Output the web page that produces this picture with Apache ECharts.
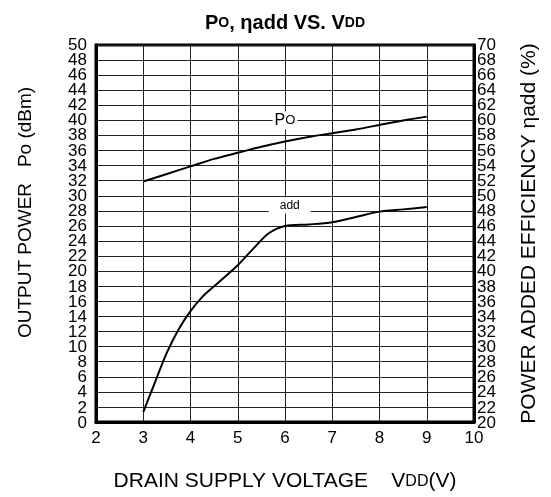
<!DOCTYPE html>
<html>
<head>
<meta charset="utf-8">
<script src="https://cdn.jsdelivr.net/npm/echarts@6/dist/echarts.min.js"></script>
<style>
  html, body { margin: 0; padding: 0; background: #fff; }
  #chart { width: 551px; height: 497px; }
</style>
</head>
<body>
<div id="chart"></div>
<script>
// drain supply voltage (V) and output power (dBm)
const vddPo = [3, 3.5, 4, 4.5, 5, 5.5, 6, 6.5, 7, 7.5, 8, 8.5, 9];
const po = [31.9, 32.9, 33.9, 34.9, 35.7, 36.5, 37.2, 37.8, 38.3, 38.8, 39.4, 40.0, 40.5];

// power added efficiency (%)
const vddEff = [3, 3.25, 3.5, 3.75, 4, 4.25, 4.5, 5, 5.3, 5.65, 6, 6.5, 7, 7.5, 8, 8.5, 9];
const eff = [21.3, 25.3, 29.2, 32.3, 34.7, 36.6, 38.0, 40.8, 42.8, 45.0, 46.0, 46.2, 46.5, 47.2, 47.9, 48.2, 48.5];

// axis ranges
const poRange = [0, 50];
const effRange = [20, 70];
const vddRange = [2, 10];

const labelFont = "Liberation Sans, Arial, sans-serif";
const plot = { left: 96, right: 77, top: 45, bottom: 74 };
const step = 2;
// pixels per label step (labels are closer than their font height)
const stepPx = (497 - plot.top - plot.bottom) / ((poRange[1] - poRange[0]) / step);

const chart = echarts.init(document.getElementById("chart"));

const tickLabel = { fontFamily: labelFont, fontSize: 17, color: "#000", showMinLabel: true, showMaxLabel: true };

// every other tick label lives on a helper axis, so echarts never hides neighbours of min/max
function labelAxis(gridIndex, min, max, position, margin, hideVal) {
  return {
    type: "value",
    gridIndex: gridIndex,
    min: min,
    max: max,
    interval: step * 2,
    position: position,
    axisLine: { show: false },
    axisTick: { show: false },
    splitLine: { show: false },
    axisLabel: Object.assign({}, tickLabel, {
      margin: margin,
      formatter: (v) => (v === hideVal ? "" : String(v)),
    }),
  };
}

chart.setOption({
  animation: false,
  title: {
    text: "{a|P}{b|O}{a|, ηadd VS. V}{b|DD}",
    left: 200,
    top: 8,
    textStyle: {
      rich: {
        a: { fontFamily: labelFont, fontSize: 20, fontWeight: "bold", color: "#000" },
        b: { fontFamily: labelFont, fontSize: 14, fontWeight: "bold", color: "#000" },
      },
    },
  },
  grid: [
    Object.assign({ show: true, borderColor: "#000", borderWidth: 3 }, plot),
    { left: plot.left, right: plot.right, top: plot.top - stepPx, bottom: plot.bottom },
    { left: plot.left, right: plot.right, top: plot.top, bottom: plot.bottom - stepPx },
  ],
  xAxis: [
    {
      type: "value",
      min: vddRange[0],
      max: vddRange[1],
      interval: 1,
      name: "DRAIN SUPPLY VOLTAGE    V{s|DD}(V)",
      nameLocation: "middle",
      nameGap: 49,
      nameTextStyle: {
        fontFamily: labelFont, fontSize: 21, color: "#000",
        rich: { s: { fontFamily: labelFont, fontSize: 16, color: "#000" } },
      },
      axisLine: { lineStyle: { color: "#000", width: 3 } },
      axisTick: { show: false },
      axisLabel: Object.assign({}, tickLabel, { margin: 8 }),
      splitLine: { lineStyle: { color: "#222", width: 1 } },
    },
    { type: "value", gridIndex: 1, min: vddRange[0], max: vddRange[1], show: false },
    { type: "value", gridIndex: 2, min: vddRange[0], max: vddRange[1], show: false },
  ],
  yAxis: [
    {
      type: "value",
      min: poRange[0],
      max: poRange[1],
      interval: step,
      name: "OUTPUT POWER   Po (dBm)",
      nameLocation: "middle",
      nameGap: 61,
      nameTextStyle: { fontFamily: labelFont, fontSize: 19, color: "#000", padding: [0, 0, 0, 42] },
      axisLine: { show: true, lineStyle: { color: "#000", width: 3 } },
      axisTick: { show: false },
      axisLabel: { show: false },
      splitLine: { lineStyle: { color: "#222", width: 1 } },
    },
    {
      type: "value",
      min: effRange[0],
      max: effRange[1],
      interval: step,
      position: "right",
      name: "POWER ADDED EFFICIENCY ηadd (%)",
      nameLocation: "middle",
      nameGap: 45,
      nameTextStyle: { fontFamily: labelFont, fontSize: 21, color: "#000" },
      axisLine: { show: true, lineStyle: { color: "#000", width: 3 } },
      axisTick: { show: false },
      axisLabel: { show: false },
      splitLine: { show: false },
    },
    // grid 1: 0, 4, 8 ... 48 (52 hidden)
    labelAxis(1, poRange[0], poRange[1] + step, "left", 9, poRange[1] + step),
    labelAxis(1, effRange[0], effRange[1] + step, "right", 3, effRange[1] + step),
    // grid 2: 2, 6, 10 ... 50 (-2 hidden)
    labelAxis(2, poRange[0] - step, poRange[1], "left", 9, poRange[0] - step),
    labelAxis(2, effRange[0] - step, effRange[1], "right", 3, effRange[0] - step),
  ],
  series: [
    {
      name: "Po",
      type: "line",
      data: vddPo.map((v, i) => [v, po[i]]),
      smooth: 0.3,
      symbol: "none",
      lineStyle: { color: "#000", width: 2 },
      markPoint: {
        symbol: "rect",
        symbolSize: 0,
        data: [{ coord: [6, 40], value: "Po" }],
        label: {
          show: true,
          formatter: "{a|P}{b|O}",
          backgroundColor: "#fff",
          padding: [1, 2],
          rich: {
            a: { fontFamily: labelFont, fontSize: 16, color: "#000" },
            b: { fontFamily: labelFont, fontSize: 13, color: "#000" },
          },
        },
      },
    },
    {
      name: "ηadd",
      type: "line",
      yAxisIndex: 1,
      data: vddEff.map((v, i) => [v, eff[i]]),
      smooth: 0.3,
      symbol: "none",
      lineStyle: { color: "#000", width: 2 },
      markPoint: {
        symbol: "rect",
        symbolSize: 0,
        data: [{ coord: [6.1, 48.7], value: "add" }],
        label: {
          show: true,
          formatter: "add",
          fontFamily: labelFont,
          fontSize: 12,
          color: "#000",
          backgroundColor: "#fff",
          padding: [2, 11],
        },
      },
    },
  ],
});
</script>
</body>
</html>
